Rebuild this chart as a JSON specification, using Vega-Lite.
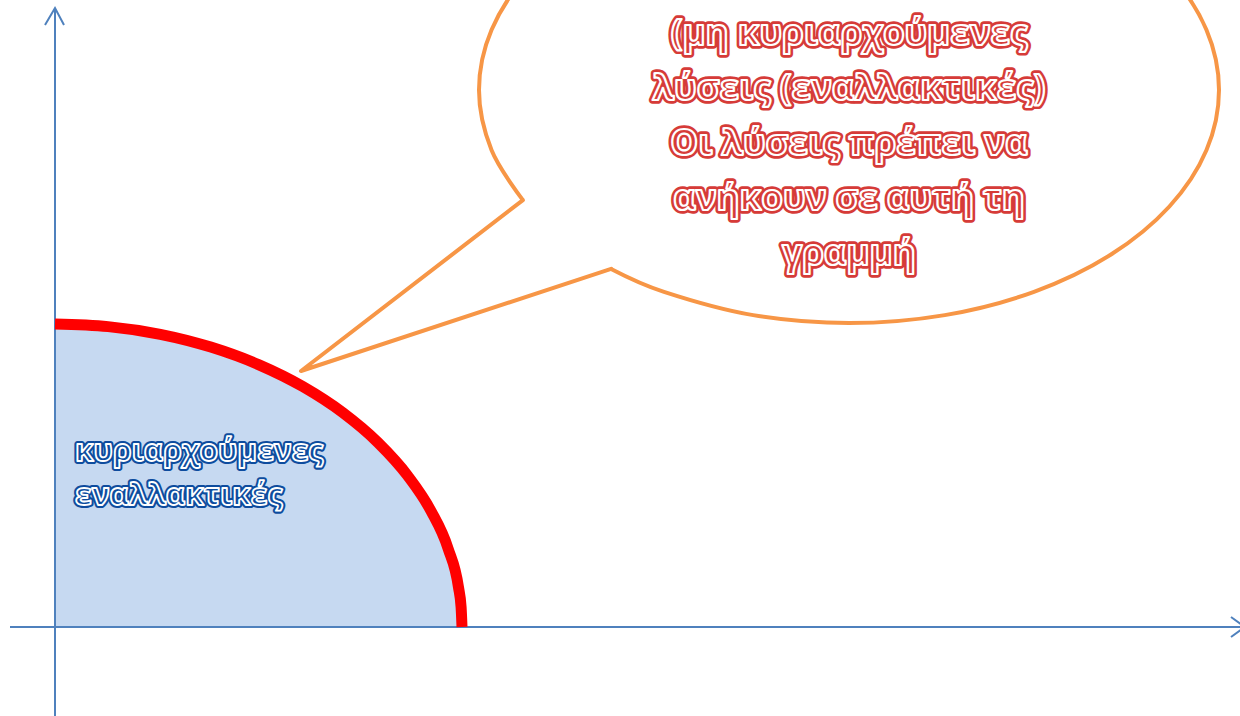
{
  "$schema": "https://vega.github.io/schema/vega-lite/v6.json",
  "width": 1240,
  "height": 716,
  "autosize": {"type": "fit", "contains": "padding"},
  "padding": 0,
  "background": "white",
  "config": {"view": {"stroke": null}},
  "datasets": {
    "curve": [
      {"x": 0, "y": 303}, {"x": 53.1, "y": 300.4}, {"x": 105.3, "y": 292.7}, {"x": 155.8, "y": 279.9},
      {"x": 203.5, "y": 262.4}, {"x": 247.8, "y": 240.4}, {"x": 287.8, "y": 214.3}, {"x": 322.9, "y": 184.5},
      {"x": 352.5, "y": 151.5}, {"x": 376.0, "y": 116.0}, {"x": 393.1, "y": 78.4}, {"x": 403.5, "y": 39.6},
      {"x": 406.1, "y": 19.8}, {"x": 407, "y": 0}
    ],
    "arc": [
      {"o": 1, "x": 556.1, "y": 358.1}, {"o": 2, "x": 609, "y": 335.2}, {"o": 3, "x": 698.2, "y": 311.9},
      {"o": 4, "x": 794, "y": 304}, {"o": 5, "x": 889.8, "y": 311.9}, {"o": 6, "x": 979, "y": 335.2},
      {"o": 7, "x": 1055.6, "y": 372.2}, {"o": 8, "x": 1114.4, "y": 420.5}, {"o": 9, "x": 1151.4, "y": 476.7},
      {"o": 10, "x": 1164, "y": 537}, {"o": 11, "x": 1151.4, "y": 597.3}, {"o": 12, "x": 1114.4, "y": 653.5},
      {"o": 13, "x": 1055.6, "y": 701.8}, {"o": 14, "x": 979, "y": 738.8}, {"o": 15, "x": 889.8, "y": 762.1},
      {"o": 16, "x": 794, "y": 770}, {"o": 17, "x": 698.2, "y": 762.1}, {"o": 18, "x": 609, "y": 738.8},
      {"o": 19, "x": 532.4, "y": 701.8}, {"o": 20, "x": 473.6, "y": 653.5}, {"o": 21, "x": 436.6, "y": 597.3},
      {"o": 22, "x": 424, "y": 537}, {"o": 23, "x": 436.6, "y": 476.7}, {"o": 24, "x": 467.9, "y": 426.9}
    ],
    "tail": [
      {"o": 1, "x": 467.9, "y": 426.9}, {"o": 2, "x": 246, "y": 256}, {"o": 3, "x": 556.1, "y": 358.1}
    ],
    "axes": [
      {"seg": "v", "o": 1, "x": 0, "y": -89}, {"seg": "v", "o": 2, "x": 0, "y": 619},
      {"seg": "va", "o": 1, "x": -10, "y": 602}, {"seg": "va", "o": 2, "x": 0, "y": 619}, {"seg": "va", "o": 3, "x": 9, "y": 602},
      {"seg": "h", "o": 1, "x": -45, "y": 0}, {"seg": "h", "o": 2, "x": 1190, "y": 0},
      {"seg": "ha", "o": 1, "x": 1176, "y": 10}, {"seg": "ha", "o": 2, "x": 1190, "y": 0}, {"seg": "ha", "o": 3, "x": 1176, "y": -10}
    ],
    "red": [
      {"x": 794, "y": 582, "t": "(μη κυριαρχούμενες"},
      {"x": 794, "y": 527, "t": "λύσεις (εναλλακτικές)"},
      {"x": 794, "y": 472, "t": "Οι λύσεις πρέπει να"},
      {"x": 794, "y": 417, "t": "ανήκουν σε αυτή τη"},
      {"x": 794, "y": 362, "t": "γραμμή"}
    ],
    "blue": [
      {"x": 20, "y": 166, "t": "κυριαρχούμενες"},
      {"x": 20, "y": 122, "t": "εναλλακτικές"}
    ]
  },
  "encoding": {
    "x": {"field": "x", "type": "quantitative", "scale": {"domain": [-55, 1185], "nice": false, "zero": false}, "axis": null},
    "y": {"field": "y", "type": "quantitative", "scale": {"domain": [-89, 627], "nice": false, "zero": false}, "axis": null}
  },
  "layer": [
    {
      "data": {"name": "curve"},
      "mark": {"type": "area", "color": "#C6D9F1", "interpolate": "monotone", "clip": true},
      "encoding": {"y2": {"datum": 0}}
    },
    {
      "data": {"name": "axes"},
      "mark": {"type": "line", "color": "#4F81BD", "strokeWidth": 2, "clip": true},
      "encoding": {"detail": {"field": "seg"}, "order": {"field": "o"}}
    },
    {
      "data": {"name": "curve"},
      "mark": {"type": "line", "color": "#FF0000", "strokeWidth": 11, "strokeCap": "butt", "interpolate": "monotone", "clip": true},
      "encoding": {}
    },
    {
      "data": {"name": "arc"},
      "mark": {"type": "line", "color": "#F79646", "strokeWidth": 4, "interpolate": "cardinal", "clip": true},
      "encoding": {"order": {"field": "o"}}
    },
    {
      "data": {"name": "tail"},
      "mark": {"type": "line", "color": "#F79646", "strokeWidth": 4, "strokeJoin": "round", "strokeCap": "round", "clip": true},
      "encoding": {"order": {"field": "o"}}
    },
    {
      "data": {"name": "red"},
      "mark": {"type": "text", "font": "Open Sans", "fontWeight": "bold", "fontSize": 35, "align": "center", "baseline": "alphabetic", "fill": "#D63B38", "stroke": "#D63B38", "strokeWidth": 7.5, "strokeJoin": "round"},
      "encoding": {"text": {"field": "t"}}
    },
    {
      "data": {"name": "red"},
      "mark": {"type": "text", "font": "Open Sans", "fontWeight": "bold", "fontSize": 35, "align": "center", "baseline": "alphabetic", "fill": "#D63B38", "stroke": "white", "strokeWidth": 2.2, "strokeJoin": "round"},
      "encoding": {"text": {"field": "t"}}
    },
    {
      "data": {"name": "blue"},
      "mark": {"type": "text", "font": "Open Sans", "fontWeight": "bold", "fontSize": 30, "align": "left", "baseline": "alphabetic", "fill": "#0D4C9E", "stroke": "#0D4C9E", "strokeWidth": 6, "strokeJoin": "round"},
      "encoding": {"text": {"field": "t"}}
    },
    {
      "data": {"name": "blue"},
      "mark": {"type": "text", "font": "Open Sans", "fontWeight": "bold", "fontSize": 30, "align": "left", "baseline": "alphabetic", "fill": "#0D4C9E", "stroke": "white", "strokeWidth": 1.8, "strokeJoin": "round"},
      "encoding": {"text": {"field": "t"}}
    }
  ]
}
